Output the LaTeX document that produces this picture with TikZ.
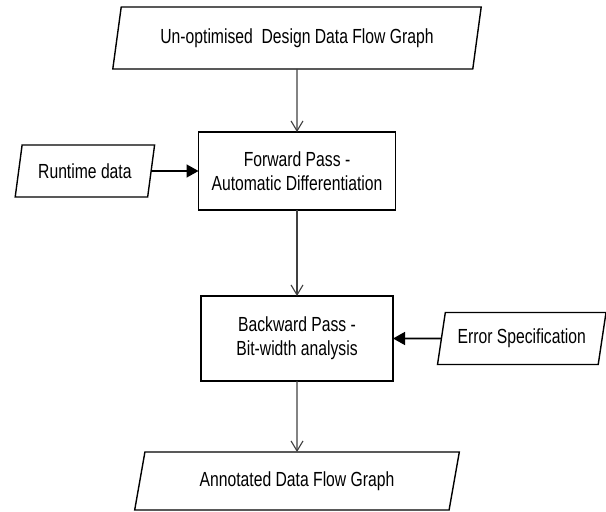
\documentclass[tikz,border=0pt]{standalone}
\usepackage{fontspec}
\setmainfont{Liberation Sans}[FakeStretch=0.77]
\usetikzlibrary{positioning,shapes.geometric,arrows.meta}

\begin{document}
\begin{tikzpicture}[node distance={30pt}, font=\fontsize{10.2}{12}\selectfont,
	io/.style = {draw, trapezium, trapezium left angle=71, trapezium right angle=109, trapezium stretches=true, line width=0.7pt, inner sep=0pt, outer sep=0pt},
	proc/.style = {draw, rectangle, align=center, line width=0.7pt, outer sep=0pt},
	flow/.style = {draw=black!75, line width=0.55pt, -{Straight Barb[length=5pt,width=6pt]}},
	feed/.style = {line width=0.8pt, -{Triangle[length=6pt,width=6.5pt]}}]
		\useasboundingbox (0,0) rectangle (303pt,-256pt);
		\node[io, minimum width=184.5pt, minimum height=31pt] (1) at (148.5pt,-19pt) {Un-optimised\ \ Design Data Flow Graph};
		\node[proc, minimum width=98.5pt, minimum height=39pt] (2) [below=31.5pt of 1] {Forward Pass -\\Automatic Differentiation};
		\node[io, minimum width=70pt, minimum height=26pt] (3) [left=23.7pt of 2] {Runtime data};
		\node[proc, minimum width=96pt, minimum height=42.5pt] (4) [below=43pt of 2] {Backward Pass -\\Bit-width analysis};
		\node[io, minimum width=84.5pt, minimum height=26pt] (5) [right=24.2pt of 4] {Error Specification};
		\node[io, minimum width=162.5pt, minimum height=29pt] (6) [below=35.5pt of 4] {Annotated Data Flow Graph};
		\draw[flow] (1) -- (2);
		\draw[feed] (3) -- (2);
		\draw[flow] (2) -- (4);
		\draw[feed] (5) -- (4);
		\draw[flow] (4) -- (6);
	\end{tikzpicture}
\end{document}
